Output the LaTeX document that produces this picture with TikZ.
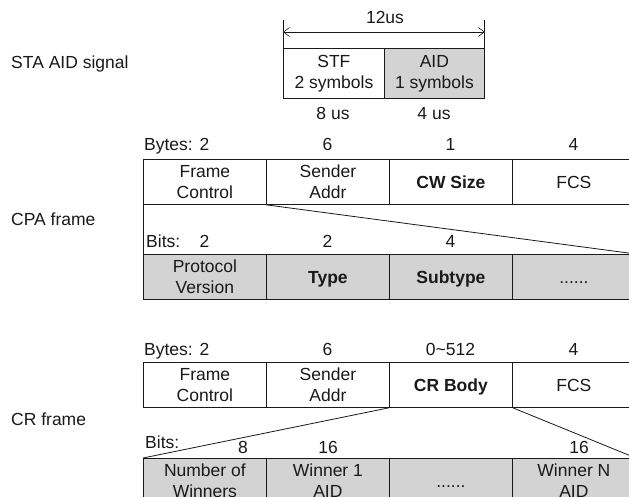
\documentclass[tikz,border=0pt]{standalone}
\usepackage{fontspec}
\setmainfont{Liberation Sans}
\usetikzlibrary{arrows.meta}
\definecolor{cellgray}{RGB}{211,211,211}
\definecolor{ink}{RGB}{25,25,25}

\begin{document}
\begin{tikzpicture}[x=1pt,y=-1pt,
  every node/.style={font=\fontsize{17.5}{21}\selectfont, text=ink, inner sep=0pt},
  cell/.style={draw=ink, line width=0.8pt, minimum width=123pt, minimum height=45pt,
               align=center, anchor=north west},
  onerow/.style={text height=12.5pt, text depth=0pt},
  shaded/.style={cell, fill=cellgray},
  slot/.style={draw=ink, line width=0.8pt, minimum height=50pt, align=center, anchor=north west},
  rule/.style={draw=ink, line width=0.8pt},
  lbl/.style={anchor=base west},
  num/.style={anchor=base}
]
\useasboundingbox (0,0) rectangle (629,496);
\clip (0,0) rectangle (629,496);

% ---------- STA AID signal ----------
\node[lbl] (sig) at (11,68) {STA AID signal};
\node[slot, minimum width=101pt] (stf) at (283,48) {STF\\2 symbols};
\node[slot, minimum width=100pt, fill=cellgray] (aid) at (384,48) {AID\\1 symbols};
\coordinate (tl) at ([yshift=28pt]stf.north west);
\coordinate (tr) at ([yshift=28pt]aid.north east);
\path[rule] (stf.north west) -- (tl);
\path[rule] (aid.north east) -- (tr);
\draw[rule, line width=0.6pt, {Straight Barb[length=6pt,width=9pt]}-{Straight Barb[length=6pt,width=9pt]}]
  ([yshift=-12pt]tl) -- ([yshift=-12pt]tr);
\node[num] (len) at (385,23) {12us};
\node[num] (t8) at (333,119) {8 us};
\node[num] (t4) at (434,119) {4 us};

% ---------- CPA frame ----------
\node[lbl] (cpa) at (11,225) {CPA frame};
\node[lbl] (cpaby) at (144,150) {Bytes:};
\node[num] (cpan1) at (204.5,150) {2};
\node[num] (cpan2) at (327.5,150) {6};
\node[num] (cpan3) at (450.5,150) {1};
\node[num] (cpan4) at (573.5,150) {4};

\node[cell] (cpa1) at (143,159) {Frame\\Control};
\node[cell] (cpa2) at (266,159) {Sender\\Addr};
\node[cell, onerow] (cpa3) at (389,159) {\textbf{CW Size}};
\node[cell, onerow] (cpa4) at (512,159) {FCS};

\node[lbl] (cpabi) at (146,247) {Bits:};
\node[num] (cpab1) at (204.5,247) {2};
\node[num] (cpab2) at (327.5,247) {2};
\node[num] (cpab3) at (450.5,247) {4};

\node[shaded] (cpb1) at (143,254) {Protocol\\Version};
\node[shaded, onerow] (cpb2) at (266,254) {\textbf{Type}};
\node[shaded, onerow] (cpb3) at (389,254) {\textbf{Subtype}};
\node[shaded, onerow] (cpb4) at (512,254) {......};

\path[rule] (cpa1.south west) -- (cpb1.north west);
\path[rule] (cpa4.south east) -- (cpb4.north east);
\path[rule] (cpa2.south west) -- (cpb4.north east);

% ---------- CR frame ----------
\node[lbl] (cr) at (11,425) {CR frame};
\node[lbl] (crby) at (144,355) {Bytes:};
\node[num] (crn1) at (204.5,355) {2};
\node[num] (crn2) at (327.5,355) {6};
\node[num] (crn3) at (450.5,355) {0\textasciitilde 512};
\node[num] (crn4) at (573.5,355) {4};

\node[cell] (cr1) at (143,362) {Frame\\Control};
\node[cell] (cr2) at (266,362) {Sender\\Addr};
\node[cell, onerow] (cr3) at (389,362) {\textbf{CR Body}};
\node[cell, onerow] (cr4) at (512,362) {FCS};

\node[lbl] (crbi) at (145,448) {Bits:};
\node[num] (crb1n) at (243,453) {8};
\node[num] (crb2n) at (328,453) {16};
\node[num] (crb4n) at (579,453) {16};

\node[shaded] (crb1) at (143,458) {Number of\\Winners};
\node[shaded] (crb2) at (266,458) {Winner 1\\AID};
\node[shaded, onerow] (crb3) at (389,458) {......};
\node[shaded] (crb4) at (512,458) {Winner N\\AID};

\path[rule] (cr3.south west) -- (crb1.north west);
\path[rule] (cr3.south east) -- (crb4.north east);
\end{tikzpicture}
\end{document}
